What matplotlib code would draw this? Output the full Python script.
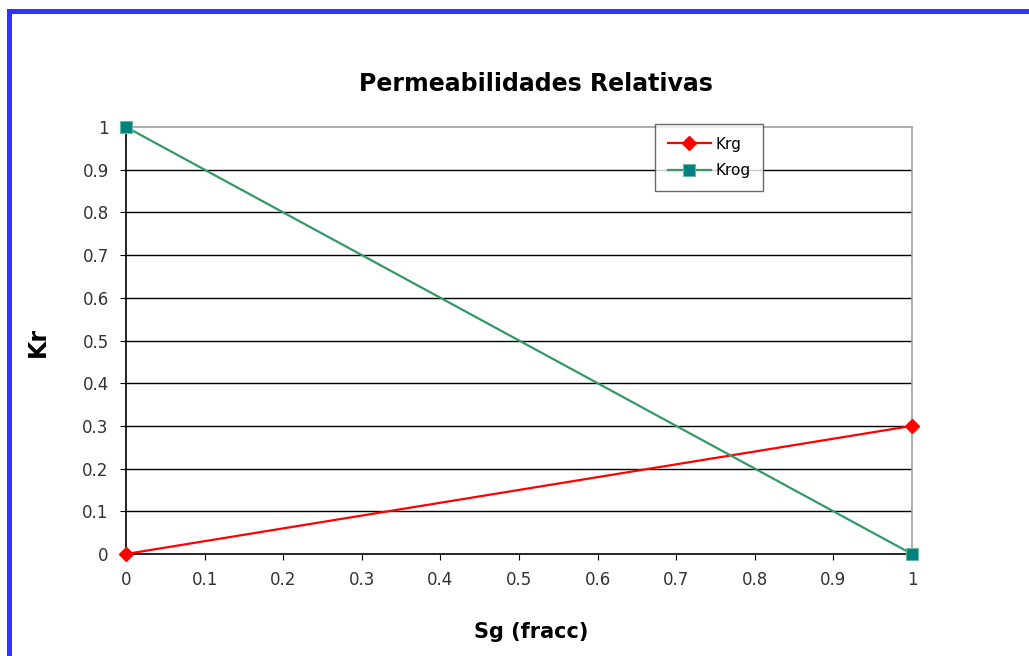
import matplotlib
matplotlib.use('Agg')
import matplotlib.pyplot as plt
from matplotlib.patches import Rectangle

plt.rcParams['font.family'] = ['DejaVu Sans']

sg = [0, 1]
krg = [0, 0.3]
krog = [1, 0]
x_ticks = [0, 0.1, 0.2, 0.3, 0.4, 0.5, 0.6, 0.7, 0.8, 0.9, 1]
y_ticks = [0, 0.1, 0.2, 0.3, 0.4, 0.5, 0.6, 0.7, 0.8, 0.9, 1]
tick_labels = ['0', '0.1', '0.2', '0.3', '0.4', '0.5', '0.6', '0.7', '0.8', '0.9', '1']

W, H = 1029, 656
fig = plt.figure(figsize=(W / 100, H / 100), dpi=100)
fig.patch.set_facecolor('white')

# blue frame on the left and top edges
fig.add_artist(Rectangle((7 / W, 0), 5 / W, 1 - 9 / H,
                         transform=fig.transFigure, color='#3333ff', lw=0))
fig.add_artist(Rectangle((7 / W, 1 - 14 / H), 1, 5 / H,
                         transform=fig.transFigure, color='#3333ff', lw=0))

ax = fig.add_axes([126 / W, 1 - 554 / H, 786 / W, 427 / H])
ax.set_xlim(0, 1)
ax.set_ylim(0, 1)

for y in y_ticks[1:-1]:
    ax.axhline(y, color='black', lw=1, zorder=1)

ax.plot(sg, krg, color='#ff0000', lw=1.6, marker='D', ms=7,
        mfc='#ff0000', mec='#ff0000', label='Krg', clip_on=False, zorder=3)
ax.plot(sg, krog, color='#339966', lw=1.6, marker='s', ms=8,
        mfc='#008080', mec='#66bb99', mew=0.8, label='Krog', clip_on=False, zorder=3)

ax.set_xticks(x_ticks)
ax.set_xticklabels(tick_labels)
ax.set_yticks(y_ticks)
ax.set_yticklabels(tick_labels)
ax.tick_params(axis='both', labelsize=12, labelcolor='#333333', length=4.5,
               direction='out', color='black', pad=8)

ax.spines['left'].set_color('black')
ax.spines['bottom'].set_color('black')
ax.spines['top'].set_color('#a0a0a0')
ax.spines['right'].set_color('#a0a0a0')
for s in ax.spines.values():
    s.set_linewidth(1.2)

fig.text(536 / W, 1 - 91 / H, 'Permeabilidades Relativas', fontsize=17,
         fontweight='bold', ha='center', va='baseline')
fig.text(531 / W, 1 - 638 / H, 'Sg (fracc)', fontsize=15,
         fontweight='bold', ha='center', va='baseline')
fig.text(38 / W, 1 - 342 / H, 'Kr', fontsize=17, fontweight='bold',
         ha='center', va='center', rotation=90)

leg = ax.legend(loc='upper left', bbox_to_anchor=(0.673, 1.008), fontsize=11,
                frameon=True, fancybox=False, edgecolor='#444444',
                handlelength=2.8, borderpad=0.85, labelspacing=0.75,
                handletextpad=0.3, borderaxespad=0)
leg.get_frame().set_linewidth(1.0)

fig.savefig('out.png', dpi=100)
